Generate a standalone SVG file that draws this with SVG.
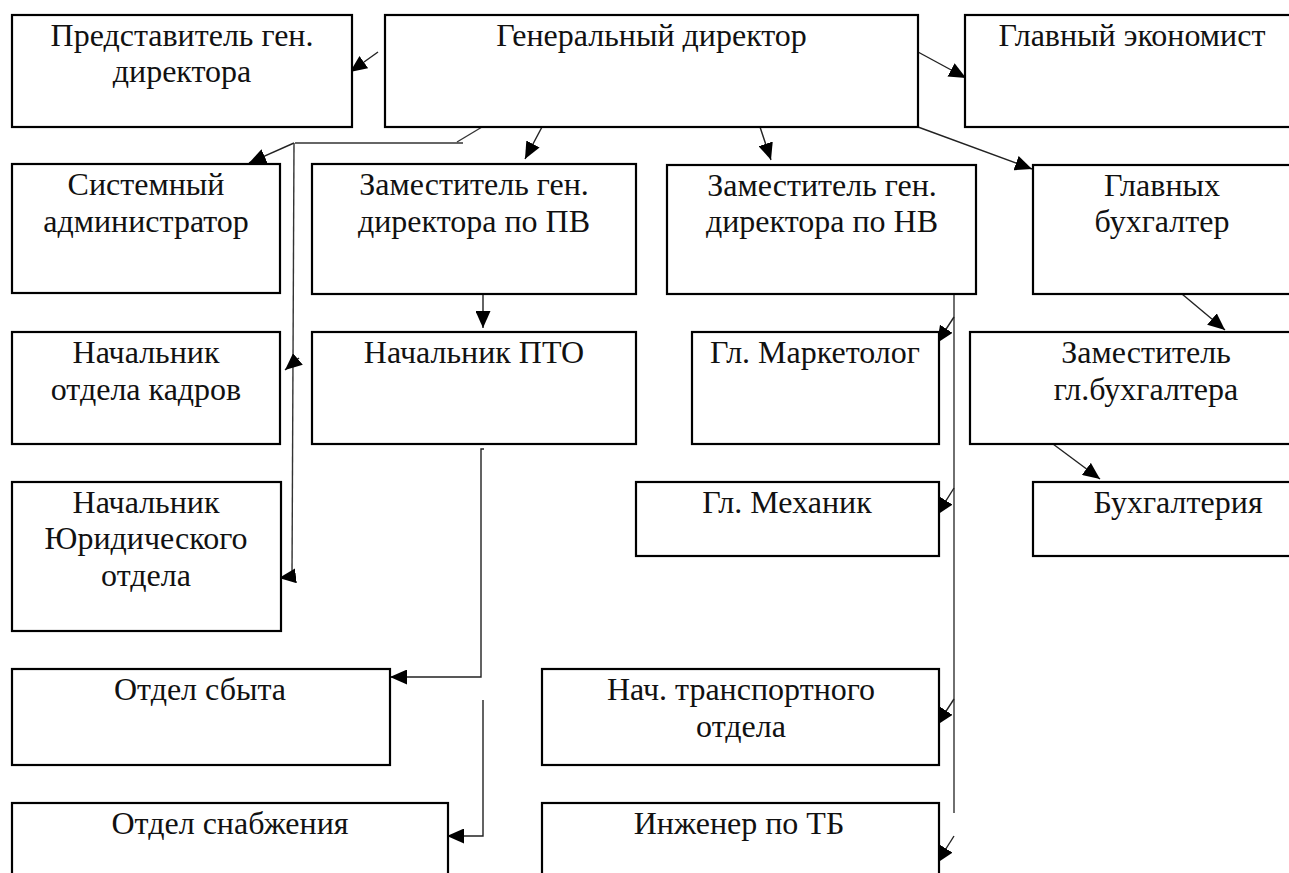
<svg xmlns="http://www.w3.org/2000/svg" width="1289" height="873" viewBox="0 0 1289 873">
<style>
.box{fill:#fff;stroke:#000;stroke-width:2.2}
.t{font-family:"Liberation Serif","Times New Roman",serif;font-size:32px;fill:#111;text-anchor:middle}
.c{fill:none;stroke:#333;stroke-width:1.4}
.a{fill:none;stroke:#222;stroke-width:1.4;marker-end:url(#ah)}
</style>
<defs>
<marker id="ah" viewBox="0 0 17 15" refX="17" refY="7.5" markerWidth="17" markerHeight="15" markerUnits="userSpaceOnUse" orient="auto">
<path d="M0,0 L17,7.5 L0,15 z" fill="#000"/>
</marker>
</defs>
<rect width="1289" height="873" fill="#fff"/>
<g id="connectors">
<path class="a" d="M378,52 L350,72"/>
<path class="a" d="M918,52 L966,78"/>
<path class="c" d="M482,127 L457,142"/>
<path class="c" d="M295,143 L463,143"/>
<path class="a" d="M294,143 L249,163"/>
<path class="c" d="M294,143 L292,576"/>
<path class="a" d="M299,358 L285,370"/>
<path class="a" d="M295,576 L279,578"/>
<path class="a" d="M542,127 L525,159"/>
<path class="a" d="M760,127 L771,160"/>
<path class="a" d="M918,127 L1032,169"/>
<path class="a" d="M483,294 L483,328"/>
<path class="a" d="M484,449 L481,449 L481,677 L390,677"/>
<path class="a" d="M483,700 L483,836 L447,836"/>
<path class="c" d="M954,294 L954,813"/>
<path class="a" d="M954,317 L937,343"/>
<path class="a" d="M954,488 L937,515"/>
<path class="a" d="M954,699 L937,725"/>
<path class="a" d="M954,836 L937,863"/>
<path class="a" d="M1182,294 L1225,330"/>
<path class="a" d="M1053,444 L1100,479"/>
</g>
<g id="n-predst"><rect class="box" x="12" y="15" width="340" height="112"/><text class="t" x="182" y="45.5">Представитель ген.</text><text class="t" x="182" y="82">директора</text></g>
<g id="n-gen"><rect class="box" x="385" y="15" width="533" height="112"/><text class="t" x="651.5" y="45.5">Генеральный директор</text></g>
<g id="n-econ"><rect class="box" x="965" y="15" width="340" height="112"/><text class="t" x="1132" y="45.5">Главный экономист</text></g>
<g id="n-sysadm"><rect class="box" x="12" y="164" width="268" height="129"/><text class="t" x="146" y="195">Системный</text><text class="t" x="146" y="232">администратор</text></g>
<g id="n-zampv"><rect class="box" x="312" y="164" width="324" height="130"/><text class="t" x="474" y="195">Заместитель ген.</text><text class="t" x="474" y="232">директора по ПВ</text></g>
<g id="n-zamnv"><rect class="box" x="667" y="165" width="309" height="129"/><text class="t" x="822" y="196">Заместитель ген.</text><text class="t" x="822" y="232">директора по НВ</text></g>
<g id="n-glbuh"><rect class="box" x="1033" y="165" width="270" height="129"/><text class="t" x="1162" y="196">Главных</text><text class="t" x="1162" y="232">бухгалтер</text></g>
<g id="n-kadr"><rect class="box" x="12" y="332" width="268" height="112"/><text class="t" x="146" y="363">Начальник</text><text class="t" x="146" y="400">отдела кадров</text></g>
<g id="n-pto"><rect class="box" x="312" y="332" width="324" height="112"/><text class="t" x="474" y="363">Начальник ПТО</text></g>
<g id="n-market"><rect class="box" x="692" y="332" width="247" height="112"/><text class="t" x="815" y="363">Гл. Маркетолог</text></g>
<g id="n-zamglbuh"><rect class="box" x="970" y="332" width="352" height="112"/><text class="t" x="1146" y="363">Заместитель</text><text class="t" x="1146" y="400">гл.бухгалтера</text></g>
<g id="n-yur"><rect class="box" x="12" y="482" width="269" height="149"/><text class="t" x="146" y="513">Начальник</text><text class="t" x="146" y="549">Юридического</text><text class="t" x="146" y="586">отдела</text></g>
<g id="n-meh"><rect class="box" x="636" y="482" width="303" height="74"/><text class="t" x="787" y="513">Гл. Механик</text></g>
<g id="n-buh"><rect class="box" x="1033" y="482" width="290" height="74"/><text class="t" x="1178" y="513">Бухгалтерия</text></g>
<g id="n-sbyt"><rect class="box" x="12" y="669" width="378" height="96"/><text class="t" x="200" y="700">Отдел сбыта</text></g>
<g id="n-trans"><rect class="box" x="542" y="669" width="397" height="96"/><text class="t" x="741" y="700">Нач. транспортного</text><text class="t" x="741" y="737">отдела</text></g>
<g id="n-snab"><rect class="box" x="12" y="803" width="436" height="100"/><text class="t" x="230" y="834">Отдел снабжения</text></g>
<g id="n-tb"><rect class="box" x="542" y="803" width="397" height="100"/><text class="t" x="739" y="834">Инженер по ТБ</text></g>
</svg>
